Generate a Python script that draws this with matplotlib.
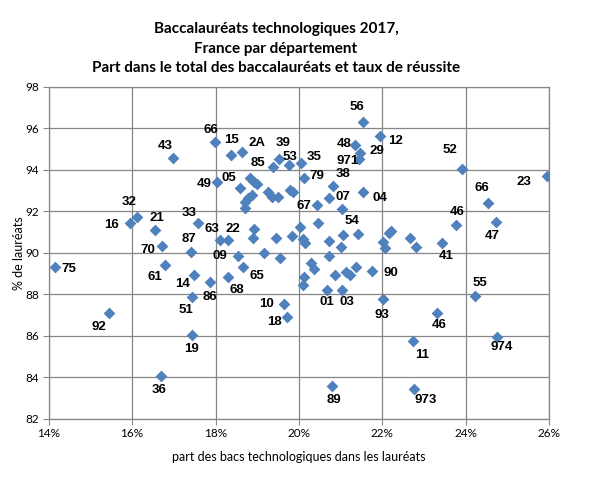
import matplotlib
matplotlib.use("Agg")
import matplotlib.pyplot as plt
from matplotlib.ticker import FuncFormatter, MultipleLocator

# Labelled departments
labels = ["75", "92", "16", "32", "21", "70", "61", "36", "43", "33",
          "87", "14", "51", "19", "86", "66", "49", "05", "15", "63",
          "22", "09", "68", "65", "2A", "85", "39", "53", "35", "79",
          "67", "10", "18", "89", "01", "03", "38", "07", "54", "48",
          "971", "29", "56", "12", "04", "90", "93", "52", "23", "66",
          "46", "47", "41", "55", "46", "11", "974", "973"]
share_lab = [14.15, 15.45, 15.95, 16.11, 16.55, 16.71, 16.80, 16.69, 16.97, 17.59,
             17.41, 17.48, 17.43, 17.43, 17.88, 17.99, 18.04, 18.59, 18.36, 18.11,
             18.31, 18.53, 18.31, 18.67, 18.64, 19.37, 19.52, 19.77, 20.05, 20.12,
             20.44, 19.64, 19.72, 20.79, 20.67, 21.03, 20.81, 20.73, 21.42, 21.35,
             21.45, 21.47, 21.54, 21.94, 21.53, 21.75, 22.02, 23.92, 25.94, 24.54,
             23.77, 24.73, 23.44, 24.22, 23.30, 22.73, 24.76, 22.76]
rate_lab = [89.30, 87.08, 91.42, 91.73, 91.11, 90.32, 89.41, 84.07, 94.58, 91.42,
            90.02, 88.91, 87.88, 86.02, 88.59, 95.32, 93.41, 93.10, 94.69, 90.60,
            90.60, 89.86, 88.84, 89.30, 94.87, 94.12, 94.52, 94.23, 94.31, 93.61,
            92.30, 87.53, 86.89, 83.59, 88.20, 88.20, 93.21, 92.62, 90.90, 95.19,
            94.50, 94.82, 96.28, 95.62, 92.94, 89.13, 87.75, 94.02, 93.71, 92.41,
            91.32, 91.49, 90.48, 87.91, 87.08, 85.76, 85.92, 83.42]

# Unlabelled departments
share_other = [18.83, 18.93, 18.99, 18.87, 18.78, 18.71, 18.71, 19.27, 19.36, 19.51,
               19.79, 19.85, 21.03, 18.93, 18.89, 19.45, 19.83, 20.03, 20.09, 20.15,
               20.45, 19.17, 19.55, 20.29, 20.37, 20.13, 20.11, 20.73, 21.05, 21.00,
               22.20, 22.17, 22.01, 22.06, 20.71, 20.87, 21.12, 21.23, 21.38, 22.66,
               22.82]
rate_other = [93.59, 93.42, 93.31, 92.78, 92.64, 92.46, 92.14, 92.94, 92.70, 92.70,
              93.02, 92.94, 92.09, 91.13, 90.69, 90.69, 90.80, 91.22, 90.65, 90.48,
              91.42, 89.97, 89.73, 89.49, 89.20, 88.84, 88.42, 90.58, 90.85, 90.29,
              91.06, 90.93, 90.53, 90.21, 89.84, 88.93, 89.07, 88.91, 89.29, 90.69,
              90.29]

# label offsets in pixels (dx, dy with dy positive = downward)
offsets = [(14, 2), (-10, 14), (-19, 2), (-8, -15), (2, -12), (-14, 4), (-11, 12), (-2, 14), (-7, -12), (-9, -10),
           (-2, -13), (-11, 9), (-6, 13), (0, 14), (-1, 15), (-4, -12), (-13, 2), (-11, -10), (1, -15), (-8, -11),
           (4, -11), (-18, 0), (8, 13), (13, 9), (15, -9), (-15, -4), (4, -16), (1, -8), (13, -6), (13, -2),
           (-13, 1), (-17, 0), (-13, 5), (2, 14), (0, 12), (5, 12), (10, -12), (14, -1), (-6, -13), (-11, -1),
           (-12, 2), (17, -2), (-6, -15), (16, 5), (17, 6), (19, 2), (-1, 16), (-12, -19), (-23, 6), (-6, -15),
           (1, -13), (-4, 14), (4, 13), (5, -13), (3, 12), (9, 14), (4, 10), (12, 11)]

W, H = 591, 478
fig = plt.figure(figsize=(W / 100, H / 100), dpi=100)
ax = fig.add_axes([48.7 / W, 1 - 418.7 / H, (549.1 - 48.7) / W, (418.7 - 86.7) / H])

blue = "#4F81BD"
ax.scatter(share_other, rate_other, marker="D", s=36, color=blue, linewidths=0, zorder=3)
ax.scatter(share_lab, rate_lab, marker="D", s=36, color=blue, linewidths=0, zorder=3)

for lab, x, y, (dx, dy) in zip(labels, share_lab, rate_lab, offsets):
    ax.annotate(lab, (x, y), xytext=(dx * 0.72, -dy * 0.72), textcoords="offset points",
                ha="center", va="center", fontsize=9.5, fontweight="bold",
                family="Liberation Sans", color="black", zorder=4)

ax.set_xlim(14, 26)
ax.set_ylim(82, 98)
ax.xaxis.set_major_locator(MultipleLocator(2))
ax.yaxis.set_major_locator(MultipleLocator(2))
ax.xaxis.set_major_formatter(FuncFormatter(lambda v, p: f"{v:.0f}%"))
ax.grid(True, color="#868686", linewidth=0.9, zorder=0)
ax.set_axisbelow(True)
for s in ax.spines.values():
    s.set_color("#868686")
    s.set_linewidth(0.9)
ax.tick_params(length=4, color="#868686", labelsize=8.5, pad=3)
for t in ax.get_xticklabels() + ax.get_yticklabels():
    t.set_family("Lato")

ax.set_xlabel("part des bacs technologiques dans les lauréats", fontsize=9, family="Lato", labelpad=8)
ax.set_ylabel("% de lauréats", fontsize=9, family="Lato", labelpad=0)

title = ["Baccalauréats technologiques 2017,", "France par département",
         "Part dans le total des baccalauréats et taux de réussite"]
for i, line in enumerate(title):
    fig.text(276 / W, 1 - (29 + 19.5 * i) / H, line, ha="center", va="center",
             fontsize=11, fontweight="bold", family="Lato")

fig.savefig("out.png", dpi=100)
